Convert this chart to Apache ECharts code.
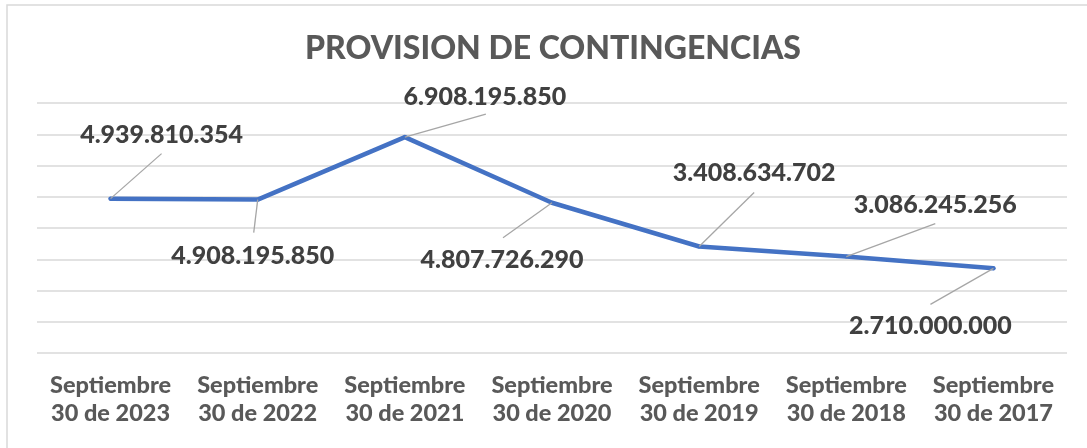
<!DOCTYPE html>
<html>
<head>
<meta charset="utf-8">
<script src="https://cdn.jsdelivr.net/npm/echarts@6/dist/echarts.min.js"></script>
<style>
  html, body { margin: 0; padding: 0; background: #fff; }
  #chart { width: 1087px; height: 448px; }
</style>
</head>
<body>
<div id="chart"></div>
<script>
// categories, left to right as in the original
var periods = [
  "Septiembre\n30 de 2023",
  "Septiembre\n30 de 2022",
  "Septiembre\n30 de 2021",
  "Septiembre\n30 de 2020",
  "Septiembre\n30 de 2019",
  "Septiembre\n30 de 2018",
  "Septiembre\n30 de 2017"
];

var provision = [4939810354, 4908195850, 6908195850, 4807726290, 3408634702, 3086245256, 2710000000];

// label centre, relative to its point (px)
var labelOffsets = [
  [51, -64],
  [-5, 56],
  [80, -40],
  [-50, 57],
  [55, -74],
  [89, -52],
  [-63, 58]
];

// far end of each leader line, relative to its point (px)
var leaderEnds = [
  [51, -45],
  [-4, 33],
  [81, -23],
  [-49, 35],
  [55, -54],
  [89, -33],
  [-63, 36]
];

function formatMoney(v) {
  return String(v).replace(/\B(?=(\d{3})+(?!\d))/g, ".");
}

var fontName = "Lato";

var chart = echarts.init(document.getElementById("chart"));

chart.setOption({
  animation: false,
  title: {
    text: "PROVISION DE CONTINGENCIAS",
    left: 548,
    textAlign: "center",
    top: 28,
    textStyle: {
      fontFamily: fontName,
      fontSize: 32,
      fontWeight: 900,
      color: "#595959"
    }
  },
  grid: {
    left: 37,
    right: 20,
    top: 103,
    bottom: 95,
    containLabel: false
  },
  xAxis: {
    type: "category",
    data: periods,
    boundaryGap: true,
    axisLine: { show: false },
    axisTick: { show: false },
    axisLabel: {
      margin: 18,
      interval: 0,
      fontFamily: fontName,
      fontSize: 23.5,
      fontWeight: 900,
      lineHeight: 28.5,
      color: "#595959"
    }
  },
  yAxis: {
    type: "value",
    min: 0,
    max: 8000000000,
    interval: 1000000000,
    axisLabel: { show: false },
    axisLine: { show: false },
    axisTick: { show: false },
    splitLine: { lineStyle: { color: "#D9D9D9", width: 1.5 } }
  },
  series: [
    {
      type: "line",
      data: provision,
      symbol: "circle",
      symbolSize: 4,
      lineStyle: { color: "#4472C4", width: 4.5, cap: "round", join: "round" },
      itemStyle: { color: "#4472C4" },
      z: 2
    },
    {
      // value labels with their leader lines
      type: "custom",
      clip: false,
      z: 3,
      data: provision.map(function (v, i) { return [i, v]; }),
      renderItem: function (params, api) {
        var i = params.dataIndex;
        var p = api.coord([api.value(0), api.value(1)]);
        var lo = labelOffsets[i];
        var le = leaderEnds[i];
        return {
          type: "group",
          children: [
            {
              type: "line",
              shape: { x1: p[0], y1: p[1], x2: p[0] + le[0], y2: p[1] + le[1] },
              style: { stroke: "#A6A6A6", lineWidth: 1.3 }
            },
            {
              type: "text",
              x: p[0] + lo[0],
              y: p[1] + lo[1],
              style: {
                text: formatMoney(api.value(1)),
                align: "center",
                verticalAlign: "middle",
                font: "900 25px " + fontName,
                fill: "#404040"
              }
            }
          ]
        };
      }
    }
  ],
  graphic: [
    {
      type: "polyline",
      silent: true,
      shape: { points: [[7, 448], [7, 5], [1087, 5]] },
      style: { stroke: "#D9D9D9", lineWidth: 1.5, fill: null }
    }
  ]
});
</script>
</body>
</html>
